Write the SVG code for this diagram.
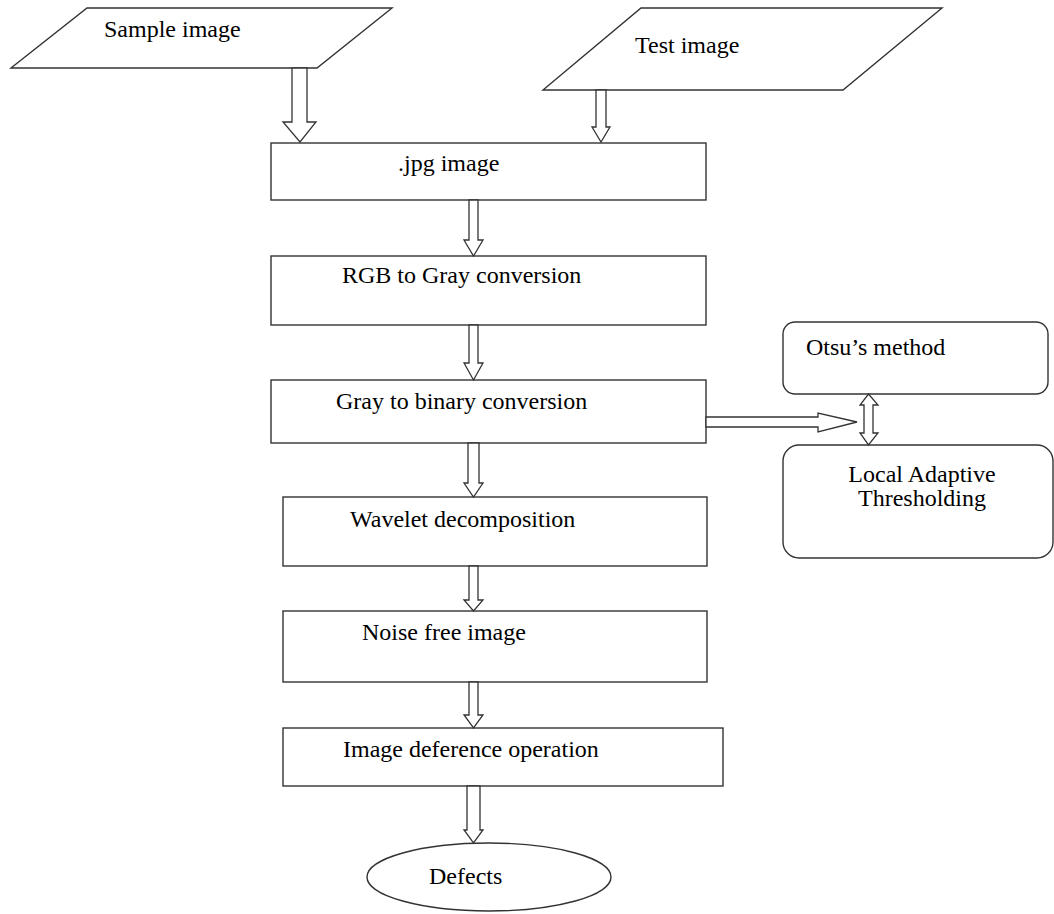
<svg xmlns="http://www.w3.org/2000/svg" width="1054" height="914" viewBox="0 0 1054 914">
<style>
.s{fill:#fff;stroke:#333;stroke-width:1.4}
.a{fill:#fff;stroke:#333;stroke-width:1.3;stroke-linejoin:miter}
text{font-family:"Liberation Serif","Times New Roman",serif;font-size:24px;fill:#000}
</style>
<rect width="1054" height="914" fill="#fff"/>
<g id="sample"><polygon class="s" points="87,8 392,8 317,68 11,68"/><text x="104" y="37">Sample image</text></g>
<g id="test"><polygon class="s" points="641,8 942,8 843,90 543,90"/><text x="635" y="53">Test image</text></g>
<g id="jpg"><rect class="s" x="271" y="143" width="435" height="57"/><text x="398" y="171">.jpg image</text></g>
<g id="rgb"><rect class="s" x="271" y="256" width="435" height="69"/><text x="342" y="283">RGB to Gray conversion</text></g>
<g id="binary"><rect class="s" x="271" y="380" width="435" height="63"/><text x="336" y="409">Gray to binary conversion</text></g>
<g id="wavelet"><rect class="s" x="283" y="497" width="424" height="69"/><text x="350" y="527">Wavelet decomposition</text></g>
<g id="noise"><rect class="s" x="283" y="611" width="424" height="71"/><text x="362" y="640">Noise free image</text></g>
<g id="diff"><rect class="s" x="283" y="728" width="440" height="58"/><text x="343" y="757">Image deference operation</text></g>
<g id="defects"><ellipse class="s" cx="489" cy="877" rx="122" ry="34"/><text x="429" y="884">Defects</text></g>
<g id="otsu"><rect class="s" x="783" y="322" width="265" height="72" rx="12"/><text x="806" y="355">Otsu’s method</text></g>
<g id="local"><rect class="s" x="783" y="445" width="270" height="113" rx="16"/><text x="922" y="482" text-anchor="middle">Local Adaptive</text><text x="922" y="506" text-anchor="middle">Thresholding</text></g>
<g id="connectors">
<polygon class="a" points="292,68 307,68 307,122 316,122 300,142 283,122 292,122"/>
<polygon class="a" points="596,90 606,90 606,127 610,127 601,142 592,127 596,127"/>
<polygon class="a" points="469,200 478,200 478,240 483,240 473.5,256 464,240 469,240"/>
<polygon class="a" points="469,325 478,325 478,363 483,363 473.5,380 464,363 469,363"/>
<polygon class="a" points="468,443 479,443 479,483 483,483 473.5,497 464,483 468,483"/>
<polygon class="a" points="469,566 478,566 478,600 483,600 473.5,611 464,600 469,600"/>
<polygon class="a" points="469,682 478,682 478,715 483,715 473.5,728 464,715 469,715"/>
<polygon class="a" points="467,786 480,786 480,830 483,830 473.5,843 464,830 467,830"/>
<polygon class="a" points="706,417 818,417 818,413 857,422 818,432 818,427 706,427"/>
<polygon class="a" points="868.5,394 878,405 873,405 873,433 878,433 868.5,445 860,433 864,433 864,405 860,405"/>
</g>
</svg>
